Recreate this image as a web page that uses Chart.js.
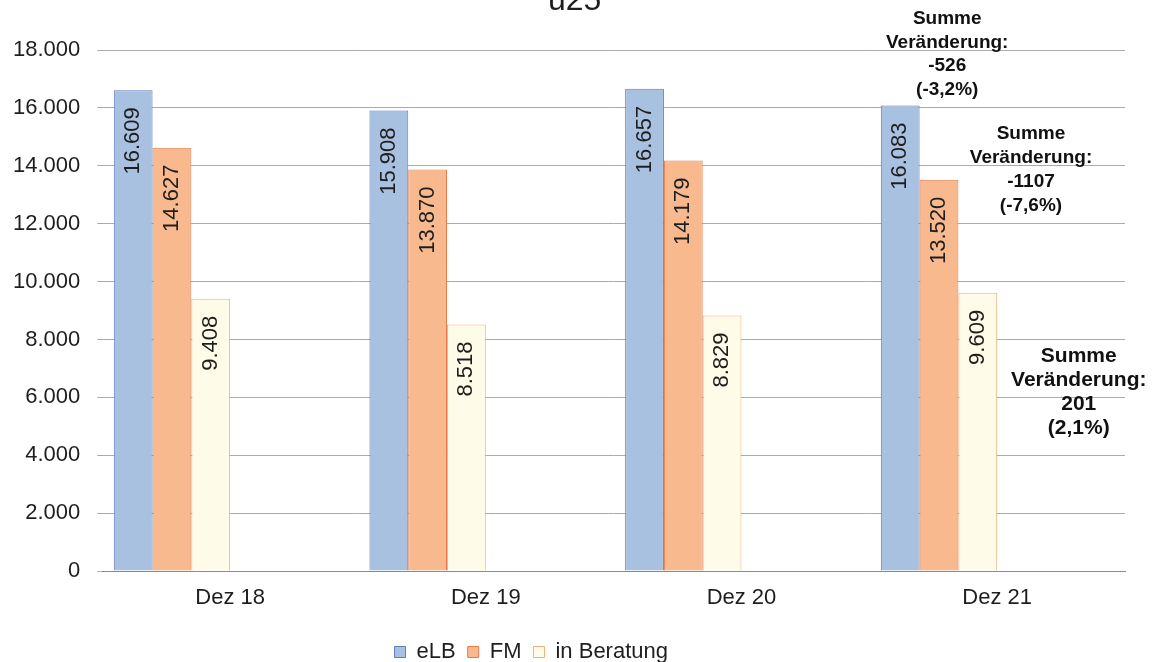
<!DOCTYPE html>
<html><head><meta charset="utf-8">
<script src="https://cdn.jsdelivr.net/npm/chart.js@4/dist/chart.umd.min.js"></script>
<style>html,body{margin:0;padding:0;background:#fff}#wrap{width:1160px;height:662px;position:relative}</style>
</head><body><div id="wrap"><canvas id="c"></canvas></div>
<script>
const titleText = 'u25';
const categories = ['Dez 18', 'Dez 19', 'Dez 20', 'Dez 21'];
const seriesNames = ['eLB', 'FM', 'in Beratung'];
const eLB = [16609, 15908, 16657, 16083];
const FM = [14627, 13870, 14179, 13520];
const inBeratung = [9408, 8518, 8829, 9609];
const yTicks = [0, 2000, 4000, 6000, 8000, 10000, 12000, 14000, 16000, 18000];
const changeLabelsELB = ['Summe', 'Veränderung:', '-526', '(-3,2%)'];
const changeLabelsFM = ['Summe', 'Veränderung:', '-1107', '(-7,6%)'];
const changeLabelsBeratung = ['Summe', 'Veränderung:', '201', '(2,1%)'];

const FONT = '"Liberation Sans", Arial, sans-serif';
const fmt = v => String(v).replace(/\B(?=(\d{3})+(?!\d))/g, '.');

const series = [eLB, FM, inBeratung];
const fills = ['#a9c1e1', '#f8b98e', '#fffbe9'];
const borders = ['#5b7fbf', '#e8794a', '#eeb27e'];

const datasets = series.map((d, i) => ({
  label: seriesNames[i], data: d, backgroundColor: fills[i], borderColor: borders[i],
  borderWidth: 1, barPercentage: 1, categoryPercentage: 0.91
}));
// empty slots (the original layout reserves room for three further series)
for (let k = 0; k < 3; k++) datasets.push({ label: '', data: categories.map(() => null), categoryPercentage: 0.91, barPercentage: 1 });

const labelPlugin = {
  id: 'valueLabels',
  afterDatasetsDraw(chart) {
    const ctx = chart.ctx;
    ctx.save();
    ctx.font = '22px ' + FONT;
    ctx.fillStyle = '#1e1e1e';
    ctx.textAlign = 'right';
    ctx.textBaseline = 'middle';
    for (let i = 0; i < 3; i++) {
      const meta = chart.getDatasetMeta(i);
      meta.data.forEach((bar, j) => {
        ctx.save();
        ctx.translate(bar.x, bar.y + 17);
        ctx.rotate(-Math.PI / 2);
        ctx.fillText(fmt(series[i][j]), 0, 0);
        ctx.restore();
      });
    }
    // change annotations for the last category
    const last = categories.length - 1;
    const bE = chart.getDatasetMeta(0).data[last];
    const bF = chart.getDatasetMeta(1).data[last];
    const bB = chart.getDatasetMeta(2).data[last];
    const block = (lines, cx, cy, size, weight, lh) => {
      ctx.font = weight + ' ' + size + 'px ' + FONT;
      ctx.textAlign = 'center';
      ctx.textBaseline = 'middle';
      const y0 = cy - (lines.length - 1) * lh / 2;
      lines.forEach((t, k) => ctx.fillText(t, cx, y0 + k * lh));
    };
    ctx.fillStyle = '#111';
    block(changeLabelsELB, bE.x + 47, bE.y - 51, 19, 'bold', 23.5);
    block(changeLabelsFM, bF.x + 92, bF.y - 10, 19, 'bold', 24);
    block(changeLabelsBeratung, bB.x + 101, bB.y + 99, 21, 'bold', 24);
    // title (cut by the top edge in the original)
    ctx.font = '32px ' + FONT;
    ctx.fillStyle = '#1e1e1e';
    ctx.textAlign = 'center';
    ctx.textBaseline = 'alphabetic';
    ctx.fillText(titleText, (chart.chartArea.left + chart.chartArea.right) / 2 - 39, 10);
    ctx.restore();
  }
};

new Chart(document.getElementById('c'), {
  type: 'bar',
  data: { labels: categories, datasets },
  options: {
    responsive: true, maintainAspectRatio: false, animation: false,
    layout: { padding: { top: 50, left: -4, right: 35, bottom: -11 } },
    plugins: {
      legend: {
        position: 'bottom',
        labels: {
          boxWidth: 11, boxHeight: 11, padding: 12,
          color: '#1e1e1e', font: { family: FONT, size: 22 },
          generateLabels: chart => {
            const items = Chart.defaults.plugins.legend.labels.generateLabels(chart).filter(it => it.text !== '');
            // blank trailing item keeps the legend left of centre, as in the original
            items.push({ text: '    ', fillStyle: 'rgba(0,0,0,0)', strokeStyle: 'rgba(0,0,0,0)', lineWidth: 0, hidden: false, datasetIndex: 5 });
            return items;
          }
        }
      },
      tooltip: { enabled: false }
    },
    scales: {
      x: {
        grid: { display: false },
        border: { display: true, color: '#8a8a8a' },
        ticks: { color: '#1e1e1e', font: { family: FONT, size: 22 }, padding: 6 },
        afterFit: ax => { ax.height = 58; }
      },
      y: {
        min: 0, max: 18000,
        afterBuildTicks: ax => { ax.ticks = yTicks.map(v => ({ value: v })); },
        grid: { color: '#ababab', lineWidth: 1, tickLength: 5 },
        border: { display: false },
        ticks: { color: '#1e1e1e', font: { family: FONT, size: 22 }, padding: 17, callback: v => fmt(v) }
      }
    }
  },
  plugins: [labelPlugin]
});
</script>
</body></html>
